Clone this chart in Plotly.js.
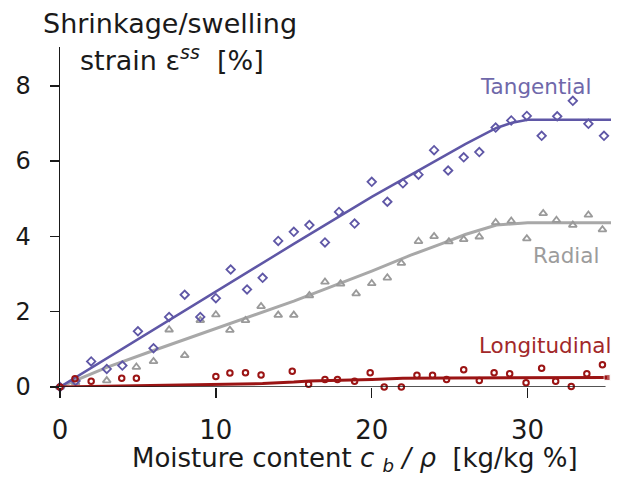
<!DOCTYPE html>
<html>
<head>
<meta charset="utf-8">
<script src="https://cdn.plot.ly/plotly-3.0.1.min.js"></script>
<style>html,body{margin:0;padding:0;background:#fff;}#chart{width:617px;height:478px;}</style>
</head>
<body>
<div id="chart"></div>
<script>
// ---- Data ----
const tanX = [0, 1, 2, 3, 4, 5, 6, 7, 8, 9, 10, 10.95, 12, 13, 14, 15, 16, 17, 17.9, 18.9, 20, 21, 22, 23, 24, 24.9, 25.9, 26.9, 27.95, 28.95, 29.95, 30.9, 31.9, 32.9, 33.9, 34.9];
const tanY = [0, 0.16, 0.68, 0.48, 0.57, 1.48, 1.03, 1.86, 2.45, 1.86, 2.36, 3.12, 2.59, 2.9, 3.88, 4.12, 4.3, 3.84, 4.65, 4.34, 5.45, 4.92, 5.41, 5.64, 6.29, 5.75, 6.1, 6.24, 6.89, 7.08, 7.2, 6.67, 7.19, 7.6, 6.99, 6.67];

const radX = [0, 1, 3, 4.9, 6, 7, 8, 9, 10, 10.9, 11.9, 12.9, 14, 15, 16, 17, 18, 19, 20, 21, 21.9, 23, 24, 24.95, 25.9, 26.9, 27.95, 28.95, 29.95, 31, 31.85, 32.9, 33.9, 34.8];
const radY = [0, 0.12, 0.17, 0.53, 0.68, 1.52, 0.84, 1.77, 1.92, 1.51, 1.77, 2.14, 1.91, 1.91, 2.43, 2.79, 2.74, 2.48, 2.75, 2.9, 3.29, 3.87, 4.0, 3.86, 3.92, 3.99, 4.37, 4.41, 3.94, 4.61, 4.43, 4.3, 4.57, 4.18];

const lonX = [0, 0.96, 2, 3.96, 4.9, 10, 10.9, 11.9, 12.9, 14.9, 15.95, 17, 17.8, 18.9, 19.9, 20.8, 21.9, 22.9, 23.9, 24.8, 25.9, 26.9, 27.85, 28.85, 29.9, 30.9, 31.8, 32.8, 33.8, 34.8];
const lonY = [0, 0.22, 0.15, 0.23, 0.23, 0.28, 0.37, 0.38, 0.32, 0.42, 0.07, 0.2, 0.2, 0.15, 0.38, 0, 0, 0.31, 0.31, 0.2, 0.46, 0.17, 0.38, 0.35, 0.11, 0.5, 0.15, 0.01, 0.35, 0.59];

// fitted curves
const fitTanX = [0, 5, 10, 15, 20, 22.5, 24.5, 26, 28, 29, 30, 35.35];
const fitTanY = [0, 1.27, 2.53, 3.8, 5.05, 5.63, 6.1, 6.45, 6.88, 7.02, 7.1, 7.1];
const fitRadX = [0, 3, 6, 10, 15, 20, 22.5, 24.5, 26, 28, 30, 35.35];
const fitRadY = [0, 0.52, 0.97, 1.55, 2.28, 3.08, 3.5, 3.81, 4.05, 4.3, 4.36, 4.36];
const fitLonX = [0, 5, 10, 13, 15, 16, 20, 22, 25, 30, 35.1];
const fitLonY = [0, 0.03, 0.07, 0.09, 0.13, 0.16, 0.2, 0.23, 0.24, 0.25, 0.25];

const xTicks = [0, 10, 20, 30];
const yTicks = [0, 2, 4, 6, 8];
const seriesNames = ["Tangential", "Radial", "Longitudinal"];

// ---- Styling ----
const FONT = "DejaVu Sans, Liberation Sans, Arial, sans-serif";
const cTan = "#5f57a6", cTanTxt = "#6f68aa";
const cRad = "#a8a8a8", cRadMk = "#9a9a9a", cRadTxt = "#9c9c9c";
const cLon = "#9b1414", cLonTxt = "#a2282a";

const W = 617, H = 478;
const M = {l: 60, r: 6, t: 47, b: 91.3};
const px2x = p => (p - M.l) / (W - M.l - M.r);
const px2y = p => (H - M.b - p) / (H - M.t - M.b);

const traces = [
  {x: fitRadX, y: fitRadY, mode: "lines", line: {color: cRad, width: 3}, hoverinfo: "skip"},
  {x: fitTanX, y: fitTanY, mode: "lines", line: {color: cTan, width: 2.5}, hoverinfo: "skip"},
  {x: radX, y: radY, mode: "markers", name: seriesNames[1], cliponaxis: false,
   marker: {symbol: "triangle-up-open", size: 7, color: cRadMk, line: {width: 1.8, color: cRadMk}}},
  {x: tanX, y: tanY, mode: "markers", name: seriesNames[0], cliponaxis: false,
   marker: {symbol: "diamond-open", size: 6.5, color: cTan, line: {width: 1.8, color: cTan}}},
  {x: fitLonX, y: fitLonY, mode: "lines+markers", line: {color: cLon, width: 3}, cliponaxis: false, hoverinfo: "skip",
   marker: {symbol: "square", color: cLon, size: fitLonX.map((v, i) => i === fitLonX.length - 1 ? 6 : 0)}},
  {x: lonX, y: lonY, mode: "markers", name: seriesNames[2], cliponaxis: false,
   marker: {symbol: "circle-open", size: 5.5, color: cLon, line: {width: 2, color: cLon}}}
];

const layout = {
  width: W, height: H,
  margin: M,
  paper_bgcolor: "#fff", plot_bgcolor: "#fff",
  showlegend: false,
  font: {family: FONT, color: "#1a1a1a"},
  xaxis: {
    range: [0, 35.35], tickvals: xTicks, ticktext: xTicks.map(String),
    ticks: "outside", ticklen: 10, tickwidth: 1.5, tickcolor: "#1a1a1a",
    showline: false, showgrid: false, zeroline: false,
    tickfont: {family: FONT, size: 26, color: "#1a1a1a"}, ticklabelstandoff: 10
  },
  yaxis: {
    range: [0, 9.03], tickvals: yTicks, ticktext: yTicks.map(String),
    ticks: "outside", ticklen: 9, tickwidth: 1.5, tickcolor: "#1a1a1a",
    showline: true, linecolor: "#1a1a1a", linewidth: 1.5,
    showgrid: false, zeroline: false,
    tickfont: {family: FONT, size: 24, color: "#1a1a1a"}, ticklabelstandoff: 14
  },
  shapes: [
    {type: "line", xref: "x", yref: "y", x0: 0, x1: 35, y0: 0, y1: 0, line: {color: "#1a1a1a", width: 1.5}, layer: "above"}
  ],
  annotations: [
    {text: "Shrinkage/swelling", xref: "paper", yref: "paper", x: px2x(41), y: px2y(24), xanchor: "left", yanchor: "middle",
     showarrow: false, font: {family: FONT, size: 27, color: "#1a1a1a"}},
    {text: "strain ε<sup><i>ss</i></sup>\u00a0 [%]", xref: "paper", yref: "paper", x: px2x(78), y: px2y(58), xanchor: "left", yanchor: "middle",
     showarrow: false, font: {family: FONT, size: 27, color: "#1a1a1a"}},
    {text: "Moisture content <i>c</i> <sub><i>b</i></sub> <i>/ ρ</i>  [kg/kg %]", xref: "paper", yref: "paper", x: px2x(355), y: px2y(459), xanchor: "center", yanchor: "middle",
     showarrow: false, font: {family: FONT, size: 26, color: "#1a1a1a"}},
    {text: seriesNames[0], xref: "paper", yref: "paper", x: px2x(535), y: px2y(86), xanchor: "center", yanchor: "middle",
     showarrow: false, font: {family: FONT, size: 21.5, color: cTanTxt}},
    {text: seriesNames[1], xref: "paper", yref: "paper", x: px2x(566), y: px2y(255), xanchor: "center", yanchor: "middle",
     showarrow: false, font: {family: FONT, size: 21.5, color: cRadTxt}},
    {text: seriesNames[2], xref: "paper", yref: "paper", x: px2x(545), y: px2y(345), xanchor: "center", yanchor: "middle",
     showarrow: false, font: {family: FONT, size: 21.5, color: cLonTxt}}
  ]
};

Plotly.newPlot("chart", traces, layout, {staticPlot: true, displayModeBar: false});
</script>
</body>
</html>
